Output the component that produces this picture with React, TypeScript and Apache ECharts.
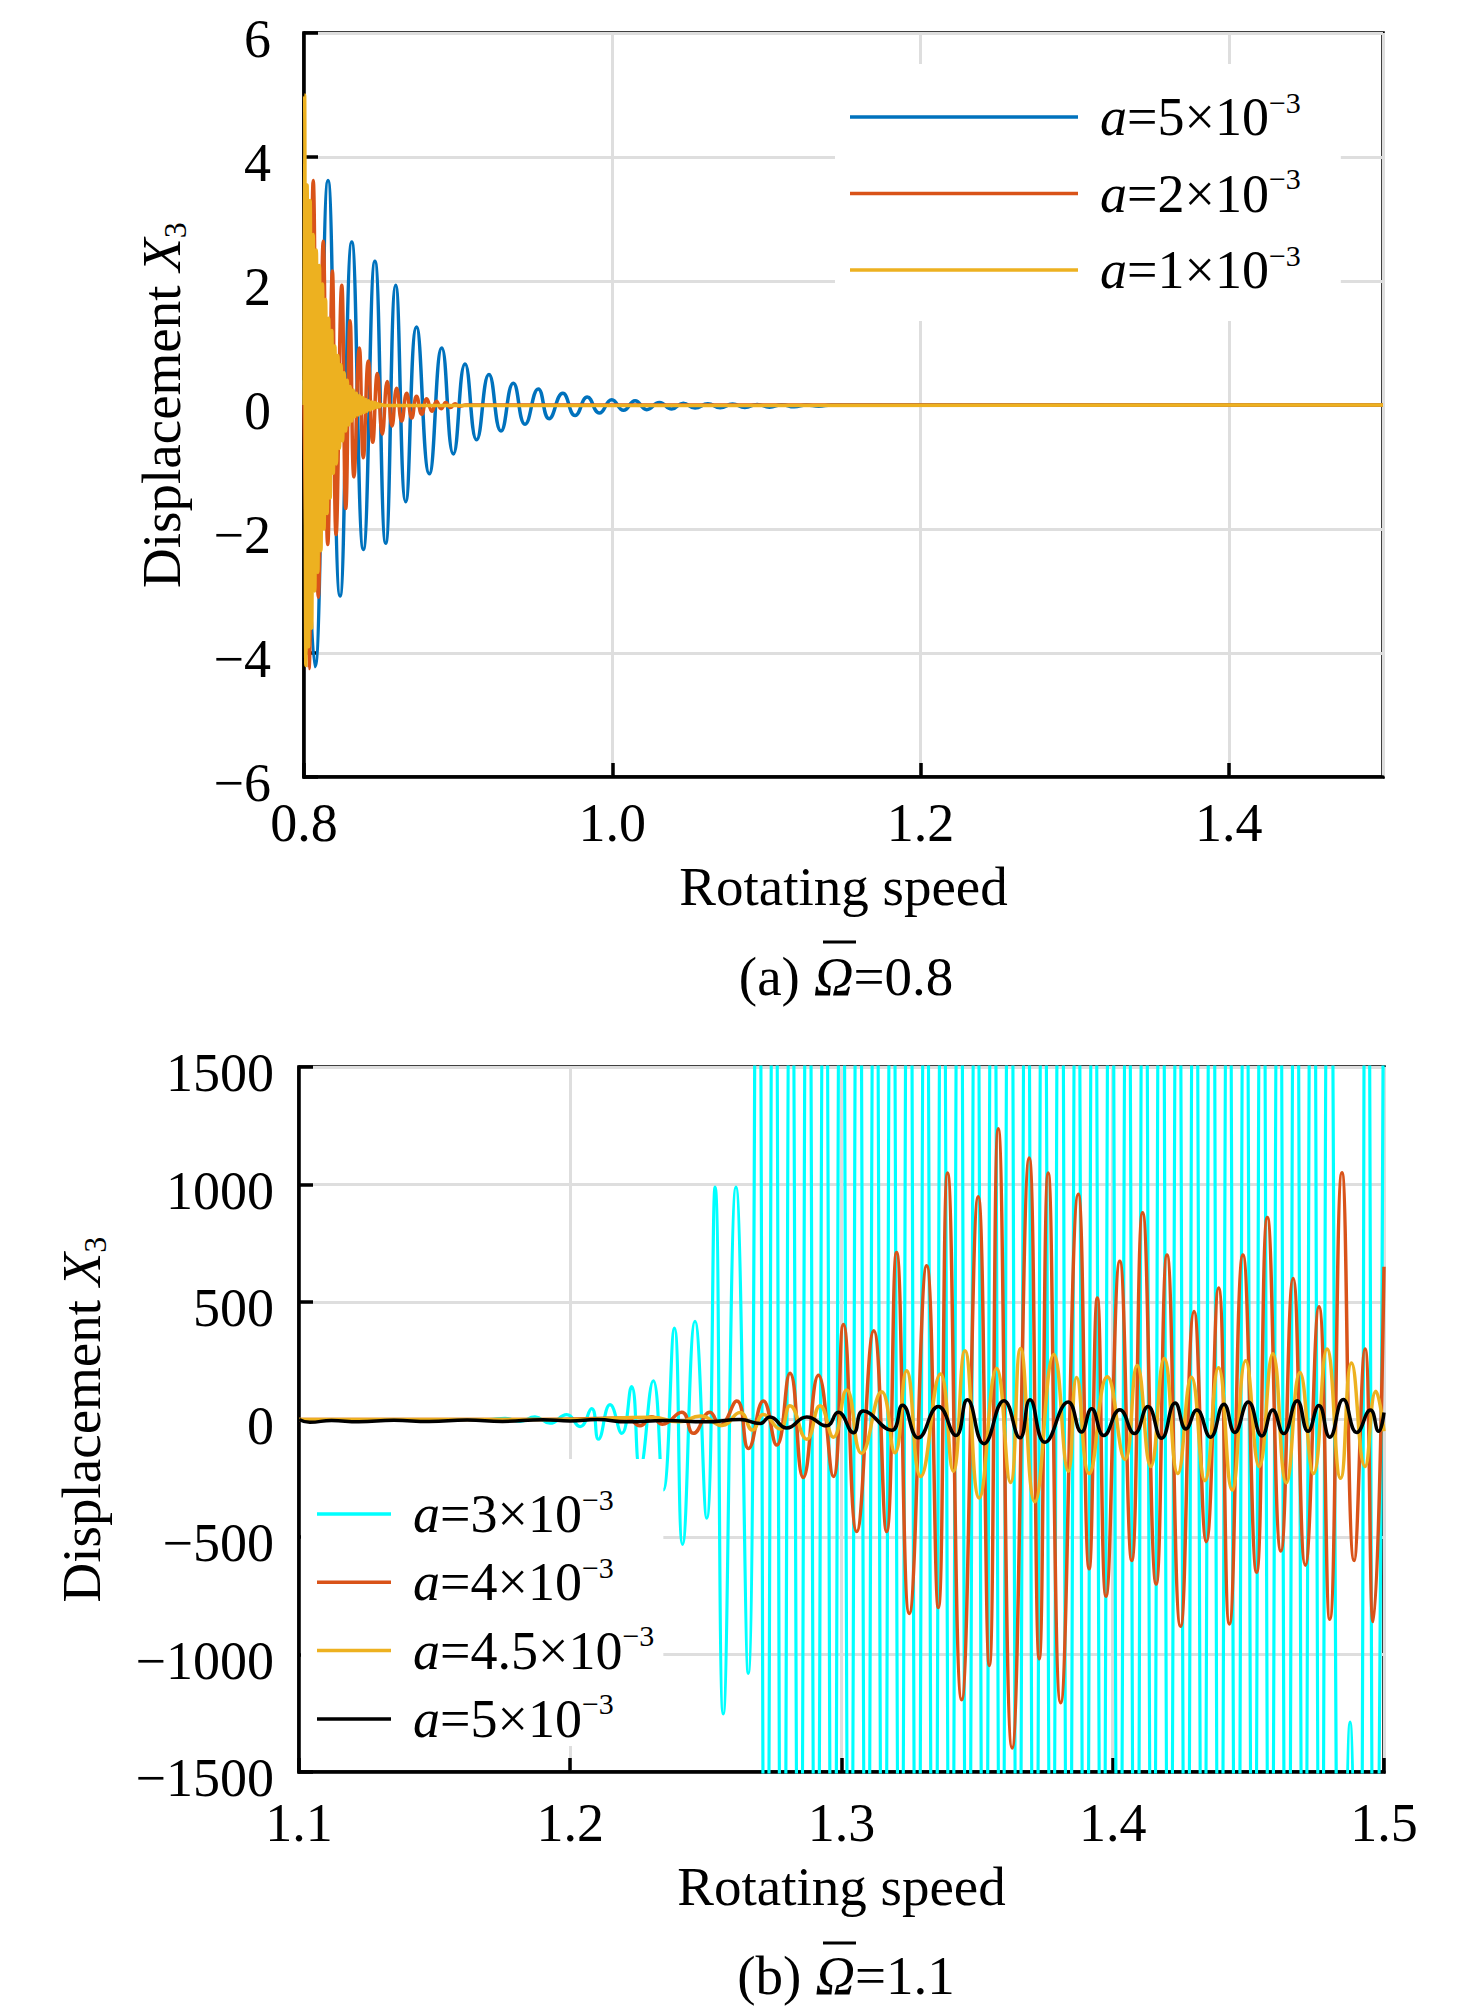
import React, { useEffect, useRef } from "react";
import * as echarts from "echarts";

const FONT = "'Liberation Serif', 'Times New Roman', Times, serif";

// ---------------- Panel (a): Omega = 0.8 ----------------
const A_X_RANGE = [0.8, 1.5];
const A_X_STEP = 0.2;
const A_Y_RANGE = [-6, 6];
const A_Y_STEP = 2;
const A_LEGEND_COEF = ["5", "2", "1"];
const A_COLORS = ["#0072BD", "#D95319", "#EDB120"];

// a = 5e-3 (extremes)
const A_BLUE_5: [number, number][] = [
  [0.8, 0.4], [0.8071, -4.22], [0.8156, 3.62], [0.8234, -3.08], [0.831, 2.63], [0.8385, -2.33],
  [0.846, 2.32], [0.853, -2.23], [0.8595, 1.93], [0.866, -1.56], [0.873, 1.26], [0.8813, -1.11],
  [0.8894, 0.92], [0.8969, -0.79], [0.9045, 0.66], [0.912, -0.56], [0.92, 0.49], [0.9278, -0.42],
  [0.9358, 0.35], [0.9434, -0.31], [0.952, 0.26], [0.959, -0.22], [0.9679, 0.19], [0.9759, -0.17],
  [0.9838, 0.13], [0.9916, -0.13], [0.9997, 0.085], [1.0073, -0.085], [1.0148, 0.07], [1.0224, -0.075],
  [1.0306, 0.04], [1.0386, -0.065], [1.046, 0.03], [1.0537, -0.05], [1.062, 0.02], [1.07, -0.045],
  [1.078, 0.015], [1.086, -0.04], [1.094, 0.01], [1.102, -0.035], [1.11, 0.005], [1.118, -0.03],
  [1.126, 0.0], [1.134, -0.02], [1.142, 0.0], [1.5, 0.0],
];
// a = 2e-3
const A_ORANGE_2: [number, number][] = [
  [0.8, 0.0], [0.8032, -4.25], [0.806, 3.62], [0.8093, -3.1], [0.8125, 2.64], [0.8154, -2.25],
  [0.8184, 2.16], [0.8208, -2.09], [0.8245, 1.93], [0.8271, -1.67], [0.8299, 1.36], [0.8324, -1.16],
  [0.8359, 0.92], [0.8385, -0.85], [0.8417, 0.71], [0.8446, -0.6], [0.8476, 0.51], [0.8508, -0.47],
  [0.854, 0.38], [0.8571, -0.34], [0.8601, 0.27], [0.8634, -0.26], [0.8666, 0.19], [0.8699, -0.21],
  [0.873, 0.14], [0.8764, -0.15], [0.8796, 0.1], [0.883, -0.1], [0.886, 0.06], [0.889, -0.06],
  [0.892, 0.04], [0.895, -0.04], [0.898, 0.02], [0.901, -0.02], [0.905, 0.0], [1.5, 0.0],
];
// a = 1e-3
const A_YELLOW_1: [number, number][] = [
  [0.8, 0.0], [0.8004, 5.0], [0.8012, -4.2], [0.802, 3.55], [0.803, -3.9], [0.804, 3.3],
  [0.805, -3.6], [0.806, 2.75], [0.807, -3.0], [0.808, 2.5], [0.809, -2.7], [0.81, 2.25],
  [0.811, -2.35], [0.812, 1.95], [0.813, -2.0], [0.814, 1.7], [0.815, -1.75], [0.816, 1.4],
  [0.817, -1.5], [0.818, 1.2], [0.819, -1.1], [0.82, 0.95], [0.821, -0.95], [0.822, 0.8],
  [0.823, -0.7], [0.824, 0.65], [0.825, -0.58], [0.826, 0.52], [0.827, -0.42], [0.828, 0.4],
  [0.829, -0.32], [0.83, 0.3], [0.831, -0.26], [0.832, 0.24], [0.833, -0.19], [0.834, 0.19],
  [0.835, -0.16], [0.836, 0.15], [0.837, -0.14], [0.838, 0.12], [0.839, -0.12], [0.84, 0.09],
  [0.841, -0.1], [0.842, 0.07], [0.843, -0.08], [0.844, 0.05], [0.845, -0.06], [0.846, 0.04],
  [0.847, -0.04], [0.848, 0.02], [0.849, -0.03], [0.85, 0.01], [0.852, -0.01], [1.5, 0.0],
];

// ---------------- Panel (b): Omega = 1.1 ----------------
const B_X_RANGE = [1.1, 1.5];
const B_X_STEP = 0.1;
const B_Y_RANGE = [-1500, 1500];
const B_Y_STEP = 500;
const B_LEGEND_COEF = ["3", "4", "4.5", "5"];
const B_COLORS = ["#00FFFF", "#D95319", "#EDB120", "#000000"];

// a = 3e-3
const B_CYAN_3: [number, number][] = [
  [1.1, 0], [1.17, 0], [1.176, 5], [1.1815, -8], [1.187, 11], [1.1925, -16], [1.1987, 21],
  [1.2036, -30], [1.2079, 46], [1.2104, -84], [1.2147, 63], [1.219, -59], [1.2226, 140],
  [1.2257, -210], [1.2306, 165], [1.2343, -300], [1.2384, 389], [1.2414, -531], [1.246, 418],
  [1.2503, -420], [1.2534, 989], [1.2564, -1253], [1.2611, 989], [1.2656, -1080],
  [1.269, 2900], [1.2721, -3100], [1.2752, 3000], [1.2783, -3300], [1.2814, 2700], [1.2845, -2900],
  [1.2876, 3200], [1.2907, -3000], [1.2938, 2800], [1.2969, -3400], [1.3, 3100], [1.3031, -2800],
  [1.3062, 3300], [1.3093, -2900], [1.3124, 2900], [1.3155, -3200], [1.3186, 3000], [1.3217, -2800],
  [1.3248, 3400], [1.3279, -3100], [1.331, 2800], [1.3341, -3300], [1.3372, 2900], [1.3403, -2900],
  [1.3434, 3200], [1.3465, -3000], [1.3496, 2800], [1.3527, -3400], [1.3558, 3100], [1.3589, -2800],
  [1.362, 3300], [1.3651, -2900], [1.3682, 2900], [1.3713, -3200], [1.3744, 3000], [1.3775, -2800],
  [1.3806, 3400], [1.3837, -3100], [1.3868, 2800], [1.3899, -3300], [1.393, 2900], [1.3961, -2900],
  [1.3992, 3200], [1.4023, -3000], [1.4054, 2800], [1.4085, -3400], [1.4116, 3100], [1.4147, -2800],
  [1.4178, 3300], [1.4209, -2900], [1.424, 2900], [1.4271, -3200], [1.4302, 3000], [1.4333, -2800],
  [1.4364, 3400], [1.4395, -3100], [1.4426, 2800], [1.4457, -3300], [1.4488, 2900], [1.4519, -2900],
  [1.455, 3200], [1.4581, -3000], [1.4612, 2800], [1.4643, -3400], [1.4674, 3100], [1.4705, -2800],
  [1.4736, 3300], [1.4767, -2900], [1.4798, 2900], [1.4845, -3200], [1.4875, -1288], [1.4905, -3000],
  [1.4936, 3100], [1.4967, -2900], [1.5, 2500],
];
// a = 4e-3
const B_ORANGE_4: [number, number][] = [
  [1.1, 0], [1.19, 0], [1.2208, 6], [1.2257, -27], [1.23, 12], [1.234, -20], [1.2411, 31],
  [1.2454, -59], [1.2515, 31], [1.2552, -25], [1.2614, 79], [1.2657, -123], [1.2712, 79],
  [1.2761, -109], [1.281, 197], [1.2859, -247], [1.2915, 188], [1.297, -243], [1.3007, 404],
  [1.3056, -477], [1.3119, 378], [1.3166, -477], [1.3203, 711], [1.325, -825], [1.3314, 654],
  [1.3357, -800], [1.3391, 1049], [1.3443, -1193], [1.3504, 948], [1.3545, -1047], [1.3578, 1237],
  [1.3629, -1398], [1.3692, 1113], [1.3729, -1018], [1.3762, 1049], [1.3808, -1205], [1.3873, 958],
  [1.3913, -635], [1.3943, 517], [1.3975, -752], [1.4026, 673], [1.407, -600], [1.411, 880],
  [1.416, -700], [1.42, 700], [1.425, -880], [1.43, 460], [1.4345, -520], [1.439, 560],
  [1.443, -870], [1.448, 700], [1.453, -650], [1.457, 860], [1.462, -560], [1.4665, 600],
  [1.471, -620], [1.476, 480], [1.48, -850], [1.4845, 1050], [1.489, -600], [1.493, 300],
  [1.496, -860], [1.5, 650],
];
// a = 4.5e-3
const B_YELLOW_45: [number, number][] = [
  [1.1, 0], [1.2, 0], [1.23, 10], [1.24, -10], [1.248, 15], [1.256, -25], [1.2626, 30],
  [1.2672, -45], [1.2712, 21], [1.2773, -40], [1.281, 59], [1.2872, -84], [1.2921, 59],
  [1.297, -75], [1.3019, 126], [1.3074, -144], [1.3148, 118], [1.3197, -141], [1.324, 207],
  [1.3292, -243], [1.3365, 194], [1.3412, -220], [1.3455, 293], [1.3508, -334], [1.3572, 217],
  [1.3623, -268], [1.366, 302], [1.3713, -350], [1.3783, 277], [1.3836, -220], [1.3867, 179],
  [1.3913, -230], [1.398, 182], [1.4045, -170], [1.409, 230], [1.414, -200], [1.419, 260],
  [1.424, -230], [1.429, 180], [1.434, -260], [1.439, 220], [1.444, -300], [1.449, 250],
  [1.454, -200], [1.459, 280], [1.464, -270], [1.469, 200], [1.474, -230], [1.479, 300],
  [1.484, -250], [1.488, 240], [1.493, -200], [1.497, 120], [1.5, -50],
];
// a = 5e-3
const B_BLACK_5: [number, number][] = [
  [1.1, 0], [1.104, -12], [1.112, -4], [1.122, -10], [1.135, -3], [1.148, -9], [1.162, -2],
  [1.175, -8], [1.19, -1], [1.2, -6], [1.21, 0], [1.2208, -10], [1.235, -4], [1.25, -10],
  [1.2626, 0], [1.27, -17], [1.2736, 11], [1.2798, -36], [1.2872, 11], [1.2945, -27],
  [1.2988, 31], [1.3044, -56], [1.308, 36], [1.3185, -46], [1.3225, 61], [1.3283, -78],
  [1.3357, 55], [1.3422, -68], [1.3464, 84], [1.3525, -103], [1.3599, 80], [1.3658, -78],
  [1.3695, 84], [1.375, -97], [1.3836, 74], [1.3885, -53], [1.3922, 46], [1.3967, -68],
  [1.4026, 42], [1.408, -60], [1.413, 55], [1.418, -80], [1.423, 70], [1.427, -40],
  [1.431, 40], [1.436, -75], [1.441, 65], [1.445, -55], [1.45, 75], [1.455, -70],
  [1.459, 40], [1.463, -60], [1.468, 80], [1.472, -50], [1.476, 60], [1.48, -75],
  [1.485, 85], [1.49, -55], [1.495, 40], [1.498, -50], [1.5, 30],
];

// ---------------- helpers ----------------
const fmtY = (v: number) => "{v|" + (v < 0 ? "\u2212" + Math.abs(v) : String(v)) + "}";
const fmtX = (v: number) => v.toFixed(1);

const legendRich = (gap: number) => ({
  i: { fontFamily: FONT, fontStyle: "italic", fontSize: 54, lineHeight: 60, color: "#000", padding: [0, 0, 0, gap] },
  n: { fontFamily: FONT, fontSize: 54, lineHeight: 60, color: "#000" },
  s: { fontFamily: FONT, fontSize: 30, lineHeight: 35, verticalAlign: "top", color: "#000" },
});
const legendLabel = (coef: string) => `{i|a}{n|=${coef}\u00d710}{s|\u22123}`;

const nameRich = {
  n: { fontFamily: FONT, fontSize: 55, lineHeight: 60, color: "#000" },
  i: { fontFamily: FONT, fontStyle: "italic", fontSize: 55, lineHeight: 60, color: "#000" },
  b: { fontFamily: FONT, fontSize: 32, lineHeight: 22, verticalAlign: "bottom", color: "#000" },
};

const axisBase = {
  axisLine: { show: true, onZero: false, lineStyle: { color: "#000", width: 3.5 } },
  axisTick: { show: true, inside: true, length: 14, lineStyle: { color: "#000", width: 3.5 } },
  splitLine: { show: true, lineStyle: { color: "#dedede", width: 3 } },
};

const lineSeries = (name: string, data: [number, number][], color: string, idx: number, width: number) => ({
  type: "line",
  name,
  data,
  xAxisIndex: idx,
  yAxisIndex: idx,
  showSymbol: false,
  symbol: "none",
  smooth: 0.5,
  clip: true,
  silent: true,
  lineStyle: { color, width },
  itemStyle: { color },
});

export default function App() {
  const ref = useRef<HTMLDivElement>(null);
  useEffect(() => {
    if (!ref.current) return;
    const chart = echarts.init(ref.current, undefined, { renderer: "svg" });
    const aNames = A_LEGEND_COEF.map((c) => "A" + c);
    const bNames = B_LEGEND_COEF.map((c) => "B" + c);
    const labelMap: Record<string, string> = {};
    A_LEGEND_COEF.forEach((c) => (labelMap["A" + c] = legendLabel(c)));
    B_LEGEND_COEF.forEach((c) => (labelMap["B" + c] = legendLabel(c)));

    const yLabel = (margin: number) => ({
      color: "#000",
      fontFamily: FONT,
      fontSize: 54,
      margin,
      formatter: fmtY,
      rich: {
        v: { fontFamily: FONT, fontSize: 54, lineHeight: 56, color: "#000", padding: [12, 0, 0, 0] },
      },
    });

    const option: any = {
      animation: false,
      backgroundColor: "#fff",
      grid: [
        { left: 304, top: 24, width: 1079, height: 753, show: true, borderColor: "#000", borderWidth: 3.5, containLabel: false },
        { left: 299, top: 1067, width: 1085, height: 705, show: true, borderColor: "#000", borderWidth: 3.5, containLabel: false },
      ],
      xAxis: [
        {
          ...axisBase,
          type: "value",
          gridIndex: 0,
          min: A_X_RANGE[0],
          max: A_X_RANGE[1],
          interval: A_X_STEP,
          axisLabel: { color: "#000", fontFamily: FONT, fontSize: 54, margin: 19, showMaxLabel: false, formatter: fmtX },
          name: "Rotating speed",
          nameLocation: "middle",
          nameGap: 82,
          nameTextStyle: { color: "#000", fontFamily: FONT, fontSize: 55 },
        },
        {
          ...axisBase,
          type: "value",
          gridIndex: 1,
          min: B_X_RANGE[0],
          max: B_X_RANGE[1],
          interval: B_X_STEP,
          axisLabel: { color: "#000", fontFamily: FONT, fontSize: 54, margin: 24, formatter: fmtX },
          name: "Rotating speed",
          nameLocation: "middle",
          nameGap: 87,
          nameTextStyle: { color: "#000", fontFamily: FONT, fontSize: 55 },
        },
      ],
      yAxis: [
        {
          ...axisBase,
          type: "value",
          gridIndex: 0,
          min: A_Y_RANGE[0],
          max: A_Y_RANGE[1],
          interval: A_Y_STEP,
          axisLabel: yLabel(33),
          name: "{n|Displacement }{i|X}{b|3}",
          nameLocation: "middle",
          nameRotate: 90,
          nameGap: 113,
          nameTextStyle: { color: "#000", fontFamily: FONT, fontSize: 55, rich: nameRich },
        },
        {
          ...axisBase,
          type: "value",
          gridIndex: 1,
          min: B_Y_RANGE[0],
          max: B_Y_RANGE[1],
          interval: B_Y_STEP,
          axisLabel: yLabel(25),
          name: "{n|Displacement }{i|X}{b|3}",
          nameLocation: "middle",
          nameRotate: 90,
          nameGap: 188,
          nameTextStyle: { color: "#000", fontFamily: FONT, fontSize: 55, rich: nameRich },
        },
      ],
      legend: [
        {
          data: aNames,
          orient: "vertical",
          left: 835,
          top: 64,
          icon: "rect",
          itemWidth: 228,
          itemHeight: 3.5,
          itemGap: 19.5,
          padding: [23, 40, 24, 15],
          backgroundColor: "#fff",
          selectedMode: false,
          formatter: (n: string) => labelMap[n],
          textStyle: { fontFamily: FONT, fontSize: 54, color: "#000", rich: legendRich(17) },
        },
        {
          data: bNames,
          orient: "vertical",
          left: 301,
          top: 1459,
          icon: "rect",
          itemWidth: 74,
          itemHeight: 3.5,
          itemGap: 11.3,
          padding: [25, 9, 0, 16],
          backgroundColor: "#fff",
          selectedMode: false,
          formatter: (n: string) => labelMap[n],
          textStyle: { fontFamily: FONT, fontSize: 54, color: "#000", rich: legendRich(17) },
        },
      ],
      series: [
        lineSeries(aNames[0], A_BLUE_5, A_COLORS[0], 0, 3.5),
        lineSeries(aNames[1], A_ORANGE_2, A_COLORS[1], 0, 3.5),
        lineSeries(aNames[2], A_YELLOW_1, A_COLORS[2], 0, 3.5),
        lineSeries(bNames[0], B_CYAN_3, B_COLORS[0], 1, 3.2),
        lineSeries(bNames[1], B_ORANGE_4, B_COLORS[1], 1, 3.5),
        lineSeries(bNames[2], B_YELLOW_45, B_COLORS[2], 1, 3.5),
        lineSeries(bNames[3], B_BLACK_5, B_COLORS[3], 1, 3.5),
      ],
      graphic: [
        {
          type: "text",
          x: 846,
          y: 976,
          style: {
            text: "{n|(a) }{i|\u03a9}{n|=0.8}",
            align: "center",
            verticalAlign: "middle",
            fontFamily: FONT,
            fontSize: 55,
            fill: "#000",
            rich: nameRich,
          },
        },
        { type: "line", shape: { x1: 823, y1: 942, x2: 856, y2: 942 }, style: { stroke: "#000", lineWidth: 3 } },
        {
          type: "text",
          x: 846,
          y: 1975,
          style: {
            text: "{n|(b) }{i|\u03a9}{n|=1.1}",
            align: "center",
            verticalAlign: "middle",
            fontFamily: FONT,
            fontSize: 55,
            fill: "#000",
            rich: nameRich,
          },
        },
        { type: "line", shape: { x1: 823, y1: 1943, x2: 856, y2: 1943 }, style: { stroke: "#000", lineWidth: 3 } },
      ],
    };
    chart.setOption(option);
    return () => chart.dispose();
  }, []);
  return <div ref={ref} style={{ position: "absolute", left: 0, top: 0, width: 1476, height: 2009 }} />;
}
